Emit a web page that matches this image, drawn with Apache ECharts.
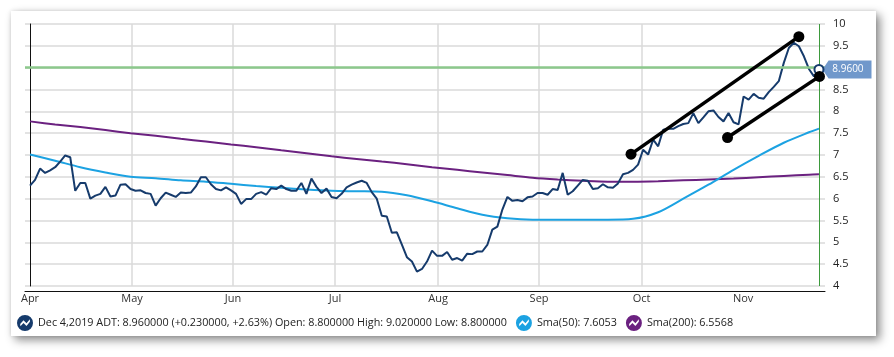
<!DOCTYPE html>
<html>
<head>
<meta charset="utf-8">
<script src="https://cdn.jsdelivr.net/npm/echarts@6/dist/echarts.min.js"></script>
<style>
html,body{margin:0;padding:0;background:#fff;width:894px;height:357px;overflow:hidden;}
#card{position:absolute;left:11px;top:11px;width:865px;height:325px;background:#fff;
  box-shadow:4px 4px 9px rgba(0,0,0,0.45),0 0 4px rgba(0,0,0,0.12);}
#chart{position:absolute;left:0;top:0;width:894px;height:357px;}
</style>
</head>
<body>
<div id="card"></div>
<div id="chart"></div>
<script>
// ---------- data ----------
const monthLabels = ['Apr','May','Jun','Jul','Aug','Sep','Oct','Nov'];
const monthTicks  = [0, 20.3, 40.4, 60.7, 81.2, 101.3, 121.7, 141.9];

const price = [
 6.30,6.43,6.69,6.59,6.65,6.72,6.85,6.99,6.95,6.18,
 6.36,6.36,6.00,6.07,6.11,6.27,6.05,6.07,6.32,6.33,
 6.22,6.18,6.19,6.13,6.11,5.84,6.01,6.14,6.09,6.04,
 6.14,6.13,6.14,6.28,6.49,6.49,6.33,6.22,6.19,6.26,
 6.19,6.11,5.88,5.99,5.99,6.11,6.15,6.09,6.24,6.22,
 6.30,6.22,6.18,6.18,6.36,6.11,6.46,6.27,6.13,6.23,
 6.04,6.01,6.11,6.26,6.32,6.37,6.41,6.36,6.15,6.00,
 5.61,5.59,5.22,5.23,4.95,4.66,4.56,4.33,4.39,4.56,
 4.81,4.69,4.69,4.78,4.60,4.64,4.58,4.74,4.73,4.79,
 4.79,4.94,5.29,5.36,5.75,6.04,5.95,5.97,5.94,6.03,
 6.05,6.13,6.13,6.09,6.22,6.20,6.59,6.09,6.17,6.30,
 6.43,6.41,6.22,6.24,6.33,6.26,6.25,6.35,6.56,6.59,
 6.66,6.78,7.12,7.01,7.35,7.20,7.58,7.60,7.60,7.66,
 7.71,7.73,7.96,7.73,7.86,8.00,8.02,7.87,7.77,7.96,
 7.75,7.70,8.34,8.27,8.40,8.31,8.29,8.44,8.56,8.69,
 9.11,9.45,9.57,9.49,9.26,8.97,8.80,8.96
];

const smaIdx = [0,5,10,15,20,25,30,35,40,45,50,55,60,65,70,75,80,85,90,95,100,105,110,115,120,125,130,135,140,145,150,155,157];
const sma50  = [7.01,6.87,6.72,6.60,6.50,6.47,6.42,6.39,6.34,6.29,6.25,6.21,6.18,6.17,6.16,6.08,5.94,5.78,5.63,5.55,5.52,5.52,5.52,5.52,5.54,5.69,6.00,6.32,6.66,6.98,7.28,7.52,7.6053];
const sma200 = [7.77,7.70,7.64,7.57,7.50,7.44,7.37,7.31,7.24,7.18,7.11,7.04,6.97,6.91,6.85,6.79,6.72,6.66,6.60,6.54,6.48,6.44,6.41,6.39,6.39,6.40,6.42,6.44,6.46,6.49,6.52,6.55,6.5568];

const trendUpper = [[119.6, 7.02], [153.0, 9.71]];
const trendLower = [[138.8, 7.40], [157.1, 8.80]];
const resistanceLevel = 9.0;

const quote = {date:'Dec 4,2019', symbol:'ADT', close:8.96, change:0.23, pct:2.63, open:8.8, high:9.02, low:8.8};

// ---------- chart ----------
const lastIdx = price.length - 1;
const NAVY = '#163b6c', BLUE = '#1ca2e2', PURPLE = '#6b2180';
const FONT = 'Open Sans';
const ICON = 'path://M8,0A8,8,0,1,1,8,16A8,8,0,1,1,8,0Z M3.4,11.3L6.5,7.9L9.5,10.9L12.9,6.7L12.9,4.2L9.5,8.3L6.5,5.2L3.2,8.9Z';
const BOX = 'path://M0,9L6,0L48,0L48,18L6,18Z';

const chart = echarts.init(document.getElementById('chart'), null, {renderer:'canvas'});
chart.setOption({
  animation:false,
  backgroundColor:'transparent',
  textStyle:{fontFamily:FONT},
  grid:{left:25, right:69, top:24, bottom:71},
  xAxis:{
    type:'value', min:-1, max:158.2,
    axisLine:{show:true, onZero:false, lineStyle:{color:'#111', width:1}},
    offset:5,
    axisTick:{show:false, customValues:monthTicks},
    axisLabel:{customValues:monthTicks, margin:2, fontSize:11, color:'#333', fontFamily:FONT,
      formatter:function(v){ const i = monthTicks.indexOf(v); return i>=0 ? monthLabels[i] : ''; }},
    splitLine:{show:true, showMinLine:false, showMaxLine:false, lineStyle:{color:'#dadada', width:1.5}}
  },
  yAxis:{
    type:'value', position:'right', min:4, max:10, interval:0.5,
    axisLine:{show:true, lineStyle:{color:'#111', width:1}},
    axisTick:{show:false},
    axisLabel:{margin:8, fontSize:11, color:'#222', fontFamily:FONT},
    splitLine:{show:true, lineStyle:{color:'#dadada', width:1.5}}
  },
  legend:{
    left:17, top:315, padding:0, itemWidth:16, itemHeight:16, itemGap:9, icon:ICON,
    data:['ADT','Sma(50)','Sma(200)'],
    textStyle:{fontSize:10.8, color:'#222', fontFamily:FONT},
    formatter:function(name){
      if(name==='ADT'){
        return quote.date+' '+quote.symbol+': '+quote.close.toFixed(6)+' (+'+quote.change.toFixed(6)+', +'+quote.pct.toFixed(2)+'%) Open: '+quote.open.toFixed(6)+' High: '+quote.high.toFixed(6)+' Low: '+quote.low.toFixed(6);
      }
      if(name==='Sma(50)') return name+': '+sma50[sma50.length-1].toFixed(4);
      return name+': '+sma200[sma200.length-1].toFixed(4);
    }
  },
  series:[
    {name:'Sma(200)', type:'line', color:PURPLE, showSymbol:false, z:2, smooth:0.3,
     lineStyle:{width:2, color:PURPLE},
     data:smaIdx.map((x,i)=>[x, sma200[i]])},
    {name:'Sma(50)', type:'line', color:BLUE, showSymbol:false, z:2, smooth:0.3,
     lineStyle:{width:2, color:BLUE},
     data:smaIdx.map((x,i)=>[x, sma50[i]])},
    {name:'ADT', type:'line', color:NAVY, showSymbol:false, z:3,
     lineStyle:{width:2, color:NAVY},
     data:price.map((v,i)=>[i, v]),
     markLine:{silent:true, symbol:['none','none'], label:{show:false},
       data:[
         {yAxis:resistanceLevel, lineStyle:{color:'#8cc88c', width:2.5, type:'solid'}},
         {xAxis:lastIdx, lineStyle:{color:'#3d9a3d', width:1, type:'solid'}}
       ]},
     markPoint:{silent:true, data:[
       {coord:[lastIdx, price[lastIdx]], symbol:BOX, symbolSize:[49,18], symbolKeepAspect:false, symbolOffset:[28,0],
        itemStyle:{color:'#7098cb'},
        label:{show:true, formatter:price[lastIdx].toFixed(4), color:'#fff', fontSize:10, fontFamily:FONT, offset:[1,0]}},
       {coord:[lastIdx, price[lastIdx]], symbol:'circle', symbolSize:9,
        itemStyle:{color:'#fff', borderColor:NAVY, borderWidth:2}, label:{show:false}}
     ]}
    },
    {name:'trendUpper', type:'line', z:5, symbol:'circle', symbolSize:11, showSymbol:true,
     lineStyle:{width:3.5, color:'#000'}, itemStyle:{color:'#000'}, data:trendUpper},
    {name:'trendLower', type:'line', z:5, symbol:'circle', symbolSize:11, showSymbol:true,
     lineStyle:{width:3.5, color:'#000'}, itemStyle:{color:'#000'}, data:trendLower}
  ]
});
</script>
</body>
</html>
